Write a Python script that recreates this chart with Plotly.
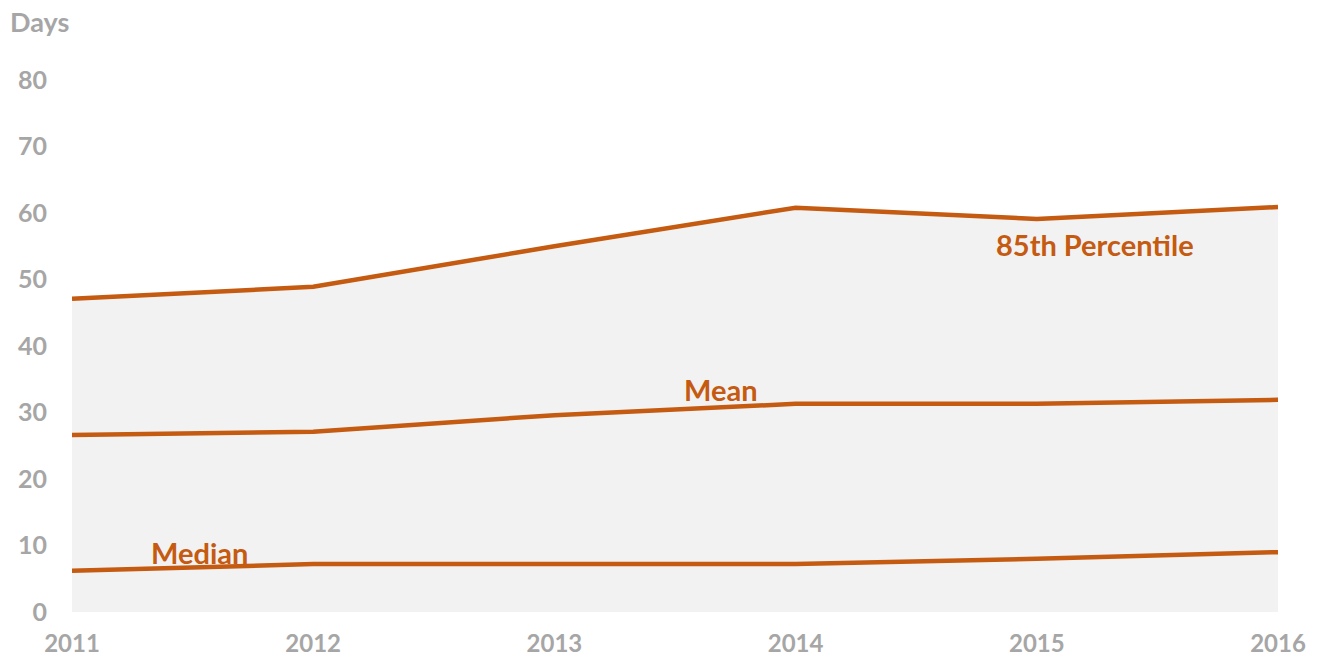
import plotly.graph_objects as go

years = [2011, 2012, 2013, 2014, 2015, 2016]
p85 = [47.1, 48.9, 55.0, 60.8, 59.1, 60.9]
mean = [26.6, 27.1, 29.6, 31.3, 31.3, 31.9]
median = [6.2, 7.2, 7.2, 7.2, 8.0, 9.0]

y_ticks = [0, 10, 20, 30, 40, 50, 60, 70, 80]

ORANGE = "#c55a11"
GRAY = "#a6a6a6"
FONT = "Lato"

fig = go.Figure()

# shaded band under the 85th percentile line
fig.add_trace(go.Scatter(
    x=years, y=p85, mode="lines", fill="tozeroy",
    fillcolor="#f2f2f2", line=dict(color=ORANGE, width=4.5),
    hoverinfo="skip", showlegend=False,
))
for series in (mean, median):
    fig.add_trace(go.Scatter(
        x=years, y=series, mode="lines",
        line=dict(color=ORANGE, width=4.5),
        showlegend=False,
    ))

labels = [
    ("85th Percentile", 2015.24, 55.2),
    ("Mean", 2013.69, 33.5),
    ("Median", 2011.53, 8.9),
]
for text, x, y in labels:
    fig.add_annotation(
        x=x, y=y, text=text, showarrow=False,
        font=dict(family=FONT, size=29, color=ORANGE, weight="bold"),
        xanchor="center", yanchor="middle",
    )

fig.add_annotation(
    xref="paper", yref="paper", x=-0.053, y=1.075,
    text="Days", showarrow=False, xanchor="left", yanchor="bottom",
    font=dict(family=FONT, size=27, color=GRAY, weight="bold"),
)

fig.update_layout(
    width=1318, height=659,
    margin=dict(l=72, r=40, t=80, b=47),
    plot_bgcolor="white", paper_bgcolor="white",
    xaxis=dict(
        range=[2011, 2016], tickvals=years, ticktext=[str(y) for y in years],
        showgrid=False, zeroline=False, showline=False, automargin=False,
        tickfont=dict(family=FONT, size=24, color=GRAY, weight="bold"),
        ticklabelstandoff=15,
    ),
    yaxis=dict(
        range=[0, 80], tickvals=y_ticks,
        showgrid=False, zeroline=False, showline=False, automargin=False,
        tickfont=dict(family=FONT, size=25, color=GRAY, weight="bold"),
        ticklabelstandoff=24,
    ),
)

fig.write_html("out.html")
